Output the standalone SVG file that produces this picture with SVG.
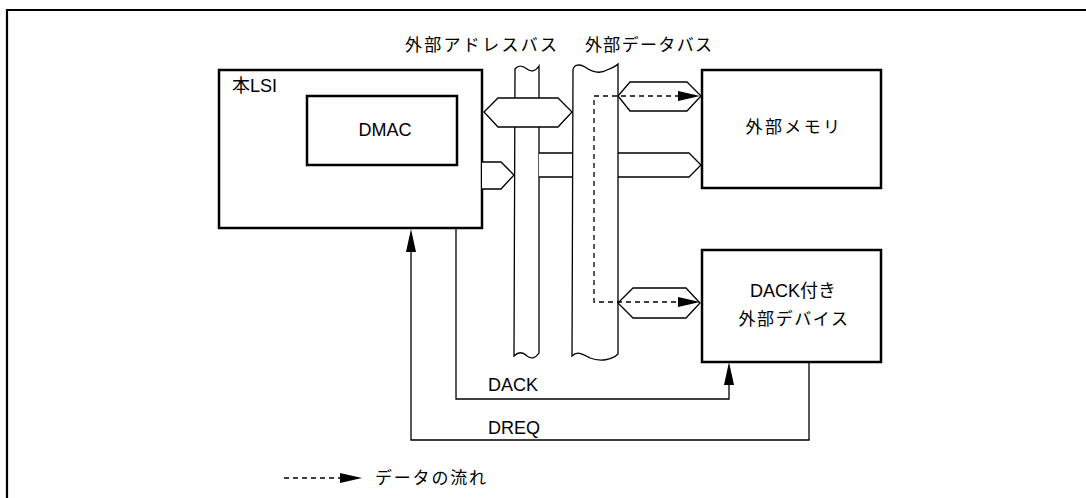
<svg xmlns="http://www.w3.org/2000/svg" width="1086" height="498" viewBox="0 0 1086 498">
<defs>
<style>
.box{fill:#fff;stroke:#000;stroke-width:2.5}
.thin{fill:none;stroke:#000;stroke-width:1.3}
.bus{fill:#fff;stroke:#000;stroke-width:1.3}
.dash{fill:none;stroke:#000;stroke-width:1.3;stroke-dasharray:5 4}
.t{font-family:"Liberation Sans","Noto Sans CJK JP",sans-serif;font-size:18px;fill:#000}
.j{font-family:"Noto Sans CJK JP","Liberation Sans",sans-serif;font-size:17px;fill:#000}
</style>
</defs>
<rect width="1086" height="498" fill="#fff"/>
<path d="M7,510 L7,10 L1095,10" fill="none" stroke="#000" stroke-width="2.2"/>

<g id="labels">
<text class="j" x="405" y="51" textLength="152" lengthAdjust="spacing">外部アドレスバス</text>
<text class="j" x="585" y="51" textLength="127" lengthAdjust="spacing">外部データバス</text>
</g>

<g id="lsi">
<rect class="box" x="219" y="70" width="263" height="158"/>
<text class="t" x="232" y="92">本LSI</text>
</g>
<g id="dmac">
<rect class="box" x="307" y="96" width="150" height="69"/>
<text class="t" x="385" y="136" text-anchor="middle" font-size="18.5">DMAC</text>
</g>
<g id="memory">
<rect class="box" x="702" y="70" width="179" height="118"/>
<text class="j" x="794" y="133" text-anchor="middle" letter-spacing="2.4">外部メモリ</text>
</g>
<g id="device">
<rect class="box" x="702" y="250" width="179" height="112"/>
<text class="t" x="793" y="297" text-anchor="middle" font-size="18.5">DACK付き</text>
<text class="j" x="794" y="325" text-anchor="middle" letter-spacing="1.6">外部デバイス</text>
</g>

<g id="connectors">
<path id="addr-bus" class="bus" d="M515,69 C519,64 523,66 527,69 C531,72 535,72 539,66 L539,353 C535,359 531,359 527,356 C523,352 519,351 514,356 Z"/>
<path class="bus" d="M539,153 L689,153 L701,165 L689,177 L539,177"/>
<path id="data-bus" class="bus" d="M573,70 C574,64 580,64 585,67 C592,72 600,74 607,70 C612,68 616,66 618,64 L618,354 C612,360 600,362 590,358 C584,355 578,350 572,356 Z"/>
<path class="bus" d="M484,112 L498,98 L558,98 L572,112 L558,127 L498,127 Z"/>
<path class="bus" d="M482,162 L501,162 L514,175 L501,189 L482,189"/>
<path class="bus" d="M618,96 L630,82 L687,82 L701,96 L687,111 L630,111 Z"/>
<path class="bus" d="M618,303 L633,288 L686,288 L700,303 L686,318 L633,318 Z"/>
<path class="dash" d="M680,96 L594,96 L594,302 L680,302"/>
<polygon points="678,91 700,96 678,101" fill="#000"/>
<polygon points="678,297 700,302 678,307" fill="#000"/>
<path class="thin" d="M456,228 L456,399 L729,399 L729,382"/>
<polygon points="724,385 729,362 734,385" fill="#000"/>
<path class="thin" d="M809,362 L809,440 L411,440 L411,250"/>
<polygon points="406,252 411,229 416,252" fill="#000"/>
<text class="t" x="488" y="391" font-size="18.5">DACK</text>
<text class="t" x="488" y="434" font-size="18.5">DREQ</text>
</g>

<g id="legend">
<path class="dash" d="M284,478 L342,478" stroke-dasharray="4 3"/>
<polygon points="340,473 362,478 340,483" fill="#000"/>
<text class="j" x="375" y="484" letter-spacing="1.8">データの流れ</text>
</g>
</svg>
